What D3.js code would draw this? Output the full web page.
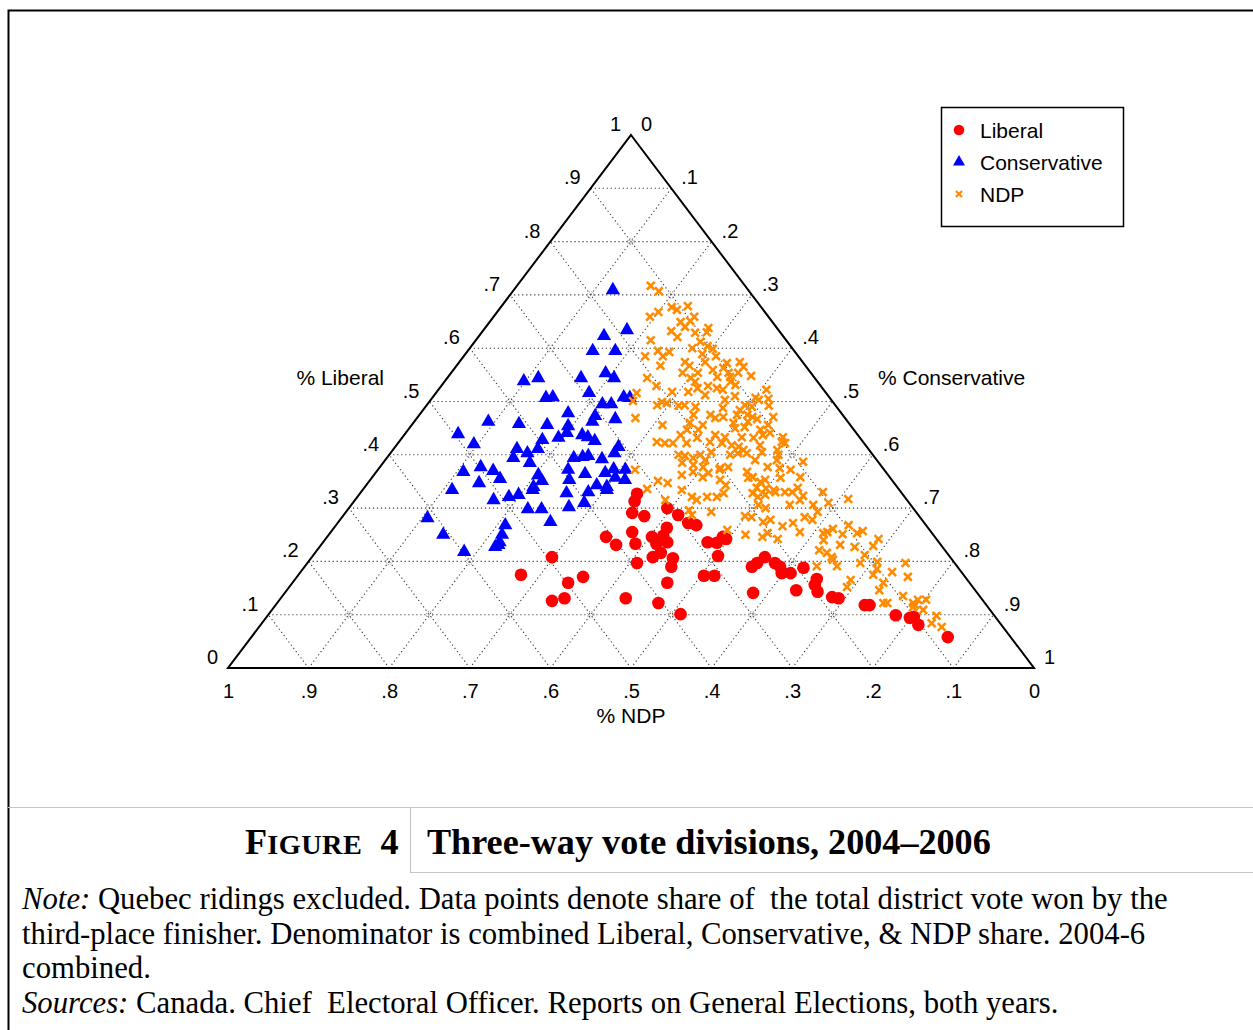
<!DOCTYPE html>
<html>
<head>
<meta charset="utf-8">
<script src="https://cdn.jsdelivr.net/npm/d3@7"></script>
<style>
  html, body { margin: 0; padding: 0; background: #fff; }
  svg { display: block; }
</style>
</head>
<body>
<svg id="chart" width="1253" height="1030"></svg>
<script>
// Each riding: [Liberal share, Conservative share]; the NDP share is the remainder.
// Ridings where the Liberal candidate finished third
const liberalThird = [
  [0.327,0.344],[0.313,0.348],[0.291,0.356],[0.285,0.374],[0.300,0.395],[0.287,0.415],
  [0.272,0.435],[0.268,0.447],[0.255,0.374],[0.246,0.346],[0.231,0.366],[0.233,0.389],
  [0.246,0.403],[0.233,0.415],[0.248,0.416],[0.263,0.413],[0.236,0.427],[0.208,0.423],
  [0.216,0.429],[0.206,0.449],[0.190,0.455],[0.197,0.409],[0.208,0.298],[0.175,0.276],
  [0.160,0.342],[0.171,0.355],[0.126,0.339],[0.131,0.352],[0.131,0.428],[0.160,0.465],
  [0.122,0.473],[0.101,0.511],[0.236,0.477],[0.235,0.489],[0.242,0.497],[0.246,0.491],
  [0.210,0.503],[0.173,0.504],[0.173,0.517],[0.208,0.562],[0.197,0.558],[0.190,0.555],
  [0.197,0.580],[0.190,0.590],[0.178,0.598],[0.178,0.609],[0.188,0.620],[0.141,0.581],
  [0.146,0.632],[0.167,0.647],[0.156,0.650],[0.143,0.660],[0.133,0.683],[0.131,0.692],
  [0.118,0.731],[0.118,0.737],[0.099,0.779],[0.094,0.799],[0.096,0.803],[0.081,0.816],
  [0.058,0.864]
];

// Ridings where the Conservative candidate finished third
const conservativeThird = [
  [0.709,0.123],[0.634,0.178],[0.623,0.155],[0.595,0.155],[0.595,0.183],[0.538,0.098],
  [0.544,0.113],[0.544,0.166],[0.553,0.192],[0.544,0.207],[0.516,0.190],[0.507,0.141],
  [0.508,0.149],[0.495,0.217],[0.495,0.228],[0.508,0.237],[0.507,0.245],[0.478,0.183],
  [0.473,0.219],[0.467,0.247],[0.462,0.092],[0.458,0.132],[0.456,0.168],[0.454,0.195],
  [0.439,0.066],[0.420,0.095],[0.428,0.176],[0.432,0.194],[0.441,0.200],[0.437,0.221],
  [0.433,0.230],[0.426,0.242],[0.462,0.221],[0.411,0.153],[0.403,0.170],[0.411,0.179],
  [0.394,0.157],[0.385,0.182],[0.394,0.232],[0.396,0.242],[0.398,0.248],[0.392,0.268],
  [0.403,0.278],[0.415,0.277],[0.368,0.108],[0.377,0.125],[0.370,0.144],[0.355,0.160],
  [0.347,0.138],[0.362,0.204],[0.351,0.214],[0.340,0.209],[0.372,0.236],[0.364,0.261],
  [0.366,0.285],[0.373,0.292],[0.372,0.307],[0.353,0.247],[0.343,0.286],[0.340,0.300],
  [0.357,0.302],[0.353,0.316],[0.334,0.111],[0.315,0.172],[0.321,0.188],[0.325,0.198],
  [0.328,0.256],[0.330,0.282],[0.310,0.287],[0.298,0.223],[0.298,0.240],[0.302,0.272],
  [0.281,0.107],[0.274,0.263],[0.268,0.210],[0.250,0.142],[0.250,0.215],[0.236,0.219],
  [0.227,0.218],[0.218,0.184],[0.334,0.211],[0.334,0.303],[0.231,0.220]
];

// Ridings where the NDP candidate finished third
const ndpThird = [
  [0.717,0.166],[0.707,0.181],[0.677,0.212],[0.672,0.221],[0.679,0.231],[0.659,0.194],
  [0.668,0.200],[0.649,0.237],[0.651,0.248],[0.659,0.249],[0.640,0.247],[0.638,0.277],
  [0.632,0.234],[0.621,0.247],[0.615,0.217],[0.595,0.236],[0.593,0.251],[0.585,0.247],
  [0.567,0.253],[0.544,0.248],[0.529,0.267],[0.516,0.249],[0.501,0.252],[0.493,0.286],
  [0.499,0.289],[0.497,0.296],[0.492,0.313],[0.469,0.271],[0.456,0.311],[0.424,0.320],
  [0.422,0.331],[0.422,0.341],[0.372,0.319],[0.629,0.265],[0.630,0.279],[0.600,0.276],
  [0.604,0.293],[0.599,0.302],[0.589,0.294],[0.574,0.305],[0.574,0.280],[0.567,0.289],
  [0.554,0.287],[0.554,0.306],[0.559,0.322],[0.563,0.333],[0.574,0.348],[0.565,0.357],
  [0.546,0.350],[0.554,0.344],[0.554,0.356],[0.548,0.375],[0.537,0.311],[0.525,0.320],
  [0.518,0.312],[0.525,0.344],[0.522,0.353],[0.531,0.364],[0.537,0.355],[0.522,0.407],
  [0.507,0.401],[0.503,0.407],[0.492,0.425],[0.493,0.320],[0.490,0.335],[0.475,0.340],
  [0.460,0.343],[0.456,0.361],[0.447,0.346],[0.488,0.370],[0.471,0.379],[0.469,0.370],
  [0.475,0.394],[0.475,0.407],[0.471,0.415],[0.467,0.423],[0.460,0.397],[0.450,0.404],
  [0.462,0.414],[0.452,0.415],[0.456,0.442],[0.441,0.452],[0.437,0.445],[0.433,0.472],
  [0.424,0.475],[0.437,0.386],[0.433,0.400],[0.433,0.421],[0.432,0.436],[0.432,0.366],
  [0.422,0.402],[0.418,0.416],[0.415,0.426],[0.409,0.435],[0.403,0.442],[0.418,0.451],
  [0.405,0.460],[0.409,0.477],[0.405,0.397],[0.398,0.368],[0.394,0.380],[0.390,0.397],
  [0.377,0.401],[0.381,0.387],[0.385,0.371],[0.375,0.423],[0.377,0.432],[0.377,0.481],
  [0.375,0.497],[0.437,0.343],[0.422,0.358],[0.447,0.437],[0.471,0.441],[0.490,0.405],
  [0.403,0.431],[0.400,0.386],[0.546,0.334],[0.529,0.331],[0.505,0.418],[0.510,0.374],
  [0.544,0.302],[0.422,0.480],[0.400,0.483],[0.390,0.486],[0.387,0.520],[0.358,0.531],
  [0.338,0.538],[0.357,0.507],[0.353,0.490],[0.337,0.499],[0.334,0.510],[0.362,0.382],
  [0.368,0.393],[0.358,0.410],[0.366,0.413],[0.372,0.424],[0.353,0.434],[0.343,0.446],
  [0.368,0.460],[0.358,0.472],[0.357,0.467],[0.349,0.486],[0.338,0.487],[0.351,0.358],
  [0.347,0.372],[0.336,0.352],[0.334,0.396],[0.315,0.424],[0.321,0.434],[0.321,0.446],
  [0.315,0.385],[0.296,0.424],[0.287,0.432],[0.259,0.490],[0.328,0.451],[0.293,0.453],
  [0.321,0.415],[0.328,0.487],[0.321,0.497],[0.325,0.504],[0.330,0.514],[0.330,0.526],
  [0.330,0.535],[0.315,0.552],[0.323,0.552],[0.330,0.573],[0.310,0.590],[0.317,0.611],
  [0.306,0.505],[0.300,0.517],[0.306,0.573],[0.293,0.585],[0.285,0.499],[0.283,0.508],
  [0.274,0.527],[0.278,0.534],[0.283,0.574],[0.266,0.555],[0.272,0.565],[0.255,0.582],
  [0.250,0.517],[0.246,0.540],[0.253,0.543],[0.242,0.561],[0.253,0.612],[0.255,0.616],
  [0.261,0.620],[0.240,0.619],[0.251,0.637],[0.268,0.636],[0.253,0.654],[0.257,0.659],
  [0.227,0.664],[0.242,0.686],[0.229,0.686],[0.221,0.623],[0.216,0.635],[0.208,0.645],
  [0.203,0.649],[0.191,0.660],[0.191,0.635],[0.197,0.686],[0.199,0.706],[0.186,0.712],
  [0.175,0.713],[0.197,0.742],[0.171,0.758],[0.180,0.734],[0.160,0.733],[0.146,0.735],
  [0.165,0.690],[0.152,0.692],[0.135,0.770],[0.122,0.752],[0.122,0.757],[0.122,0.789],
  [0.128,0.792],[0.128,0.802],[0.114,0.793],[0.109,0.808],[0.098,0.830],[0.084,0.831],
  [0.077,0.847],[0.118,0.793],
  [0.612,0.280],[0.585,0.313],[0.572,0.333],[0.493,0.395],[0.484,0.393],[0.475,0.361],
  [0.447,0.360],[0.424,0.386],[0.400,0.423],[0.390,0.459],[0.372,0.512],[0.518,0.292],
  [0.585,0.225],[0.278,0.586],[0.306,0.544],[0.231,0.644],[0.212,0.684],[0.400,0.359],
  [0.503,0.365],[0.512,0.336]
];

const tickValues = [0, 0.1, 0.2, 0.3, 0.4, 0.5, 0.6, 0.7, 0.8, 0.9, 1];
const legendLabels = ["Liberal", "Conservative", "NDP"];
const axisTitles = { left: "% Liberal", right: "% Conservative", bottom: "% NDP" };

const noteLines = [
  [{ t: "Note:", i: true }, { t: " Quebec ridings excluded. Data points denote share of  the total district vote won by the" }],
  [{ t: "third-place finisher. Denominator is combined Liberal, Conservative, & NDP share. 2004-6" }],
  [{ t: "combined." }],
  [{ t: "Sources:", i: true }, { t: " Canada. Chief  Electoral Officer. Reports on General Elections, both years." }]
];

// ---------------------------------------------------------------------------
const svg = d3.select("#chart");
svg.append("rect").attr("width", 1253).attr("height", 1030).attr("fill", "#fff");

const SANS = "'Liberation Sans', Arial, Helvetica, sans-serif";
const SERIF = "'Liberation Serif', 'Times New Roman', serif";

// Vertical: Liberal share (0 at base, 1 at apex). Horizontal: NDP axis (1 at left, 0 at right).
const libScale = d3.scaleLinear().domain([0, 1]).range([668, 135]);
const ndpScale = d3.scaleLinear().domain([1, 0]).range([228, 1034]);

// ternary projection: (Liberal, Conservative, NDP) -> screen
function project(lib, con) {
  const ndp = 1 - lib - con;
  return [ndpScale(ndp + lib / 2), libScale(lib)];
}

const fmt = v => v === 0 ? "0" : v === 1 ? "1" : "." + Math.round(v * 10);

// frame around the figure
svg.append("path")
  .attr("d", "M8.5,1030 V10.5 H1253")
  .attr("fill", "none").attr("stroke", "#000").attr("stroke-width", 2);

// --- grid --------------------------------------------------------------------
const grid = svg.append("g")
  .attr("fill", "none").attr("stroke", "#3a3a3a").attr("stroke-width", 1.1)
  .attr("stroke-dasharray", "1.2,2.8");
const inner = tickValues.slice(1, -1);
const gridSegs = [];
inner.forEach(k => {
  gridSegs.push([project(k, 0), project(k, 1 - k)]);          // Liberal constant
  gridSegs.push([project(0, k), project(1 - k, k)]);          // Conservative constant
  gridSegs.push([project(0, 1 - k), project(1 - k, 0)]);      // NDP constant
});
grid.selectAll("line").data(gridSegs).join("line")
  .attr("x1", d => d[0][0]).attr("y1", d => d[0][1])
  .attr("x2", d => d[1][0]).attr("y2", d => d[1][1]);

const nodes = [];
inner.forEach(l => inner.forEach(c => {
  if (l + c < 0.95) nodes.push(project(l, c));
}));
grid.selectAll("circle").data(nodes).join("circle")
  .attr("cx", d => d[0]).attr("cy", d => d[1]).attr("r", 3.2)
  .attr("stroke-dasharray", "1,1.6").attr("stroke", "#666").attr("stroke-width", 0.9);

// --- triangle outline ----------------------------------------------------------
const corners = [project(1, 0), project(0, 1), project(0, 0)];
svg.append("path")
  .attr("d", "M" + corners.map(p => p.join(",")).join("L") + "Z")
  .attr("fill", "none").attr("stroke", "#000").attr("stroke-width", 2)
  .attr("stroke-linejoin", "miter");

// --- axis labels -------------------------------------------------------------
const labelFont = g => g.attr("font-family", SANS).attr("font-size", 20).attr("fill", "#000");

const leftG = svg.append("g").call(labelFont).attr("text-anchor", "end");
leftG.selectAll("text").data(tickValues).join("text")
  .attr("x", v => project(v, 0)[0] - 10)
  .attr("y", v => project(v, 0)[1] - 4)
  .text(fmt);

const rightG = svg.append("g").call(labelFont).attr("text-anchor", "start");
rightG.selectAll("text").data(tickValues).join("text")
  .attr("x", v => project(1 - v, v)[0] + 10)
  .attr("y", v => project(1 - v, v)[1] - 4)
  .text(fmt);

const bottomAxis = d3.axisBottom(ndpScale).tickValues(tickValues).tickFormat(fmt)
  .tickSize(0).tickPadding(16);
const bottomG = svg.append("g").attr("transform", `translate(0,${libScale(0)})`).call(bottomAxis);
bottomG.select(".domain").remove();
bottomG.selectAll("text").attr("font-family", SANS).attr("font-size", 20).attr("fill", "#000");

svg.append("text").attr("font-family", SANS).attr("font-size", 21)
  .attr("text-anchor", "middle").attr("x", ndpScale(0.5)).attr("y", 723)
  .text(axisTitles.bottom);
svg.append("text").attr("font-family", SANS).attr("font-size", 21)
  .attr("text-anchor", "end").attr("x", 384).attr("y", 385)
  .text(axisTitles.left);
svg.append("text").attr("font-family", SANS).attr("font-size", 21)
  .attr("text-anchor", "start").attr("x", 878).attr("y", 385)
  .text(axisTitles.right);

// --- markers -----------------------------------------------------------------
const RED = "#ff0000", BLUE = "#0000ff", ORANGE = "#ff8c00";
const triPath = d3.symbol(d3.symbolTriangle, 88)();
const crossPath = r => `M${-r},${-r}L${r},${r}M${-r},${r}L${r},${-r}`;

svg.append("g").selectAll("circle").data(liberalThird).join("circle")
  .attr("cx", d => project(d[0], d[1])[0])
  .attr("cy", d => project(d[0], d[1])[1])
  .attr("r", 6.3).attr("fill", RED);

svg.append("g").selectAll("path").data(conservativeThird).join("path")
  .attr("d", triPath)
  .attr("transform", d => `translate(${project(d[0], d[1])})`)
  .attr("fill", BLUE);

svg.append("g").selectAll("path").data(ndpThird).join("path")
  .attr("d", crossPath(3.9))
  .attr("transform", d => `translate(${project(d[0], d[1])})`)
  .attr("stroke", ORANGE).attr("stroke-width", 2.6).attr("fill", "none");

// --- legend ------------------------------------------------------------------
const legend = svg.append("g").attr("transform", "translate(941,107)");
legend.append("rect").attr("x", 0.5).attr("y", 0.5).attr("width", 182).attr("height", 119)
  .attr("fill", "#fff").attr("stroke", "#000").attr("stroke-width", 1.5);
const legRows = legend.selectAll("g.item").data(legendLabels).join("g")
  .attr("class", "item")
  .attr("transform", (d, i) => `translate(18,${23 + i * 32})`);
legRows.each(function (d, i) {
  const g = d3.select(this);
  if (i === 0) g.append("circle").attr("r", 5.3).attr("fill", RED);
  if (i === 1) g.append("path").attr("d", d3.symbol(d3.symbolTriangle, 62)()).attr("fill", BLUE);
  if (i === 2) g.append("path").attr("d", crossPath(3)).attr("stroke", ORANGE)
    .attr("stroke-width", 2.2).attr("fill", "none");
  g.append("text").attr("x", 21).attr("y", 7.5)
    .attr("font-family", SANS).attr("font-size", 21).text(d);
});

// --- caption -----------------------------------------------------------------
const rule = "#c6c6c6";
svg.append("line").attr("x1", 8).attr("x2", 1253).attr("y1", 807.5).attr("y2", 807.5)
  .attr("stroke", rule).attr("stroke-width", 1.2);
svg.append("line").attr("x1", 410.5).attr("x2", 410.5).attr("y1", 807).attr("y2", 873)
  .attr("stroke", rule).attr("stroke-width", 1.2);
svg.append("line").attr("x1", 410).attr("x2", 1253).attr("y1", 872.5).attr("y2", 872.5)
  .attr("stroke", rule).attr("stroke-width", 1.2);

// scale a text element so that it spans the given width
function fitWidth(sel, width) {
  const w = sel.node().getComputedTextLength();
  const k = width / w;
  sel.selectAll("tspan").each(function () {
    const t = d3.select(this);
    t.attr("font-size", parseFloat(t.attr("font-size")) * k);
  });
  if (sel.attr("font-size")) sel.attr("font-size", parseFloat(sel.attr("font-size")) * k);
}

const fig = svg.append("text").attr("font-family", SERIF).attr("font-weight", "bold")
  .attr("x", 245).attr("y", 854).attr("fill", "#000");
fig.append("tspan").attr("font-size", 32).text("F");
fig.append("tspan").attr("font-size", 25).attr("letter-spacing", 0.5).text("IGURE");
fig.append("tspan").attr("font-size", 32).text("\u00a0\u00a04");
fitWidth(fig, 154);

const title = svg.append("text").attr("font-family", SERIF).attr("font-weight", "bold")
  .attr("font-size", 33).attr("x", 427).attr("y", 854)
  .text("Three-way vote divisions, 2004\u20132006");
fitWidth(title, 564);

const noteG = svg.append("g").attr("font-family", SERIF).attr("font-size", 27).attr("fill", "#000");
noteLines.forEach((parts, i) => {
  const t = noteG.append("text").attr("x", 22).attr("y", 909 + i * 34.7)
    .attr("xml:space", "preserve").style("white-space", "pre");
  parts.forEach(p => {
    const s = t.append("tspan").text(p.t);
    if (p.i) s.attr("font-style", "italic");
  });
});
// fit the note block to its column width
const firstW = noteG.select("text").node().getComputedTextLength();
noteG.attr("font-size", 27 * 1146 / firstW);
</script>
</body>
</html>
